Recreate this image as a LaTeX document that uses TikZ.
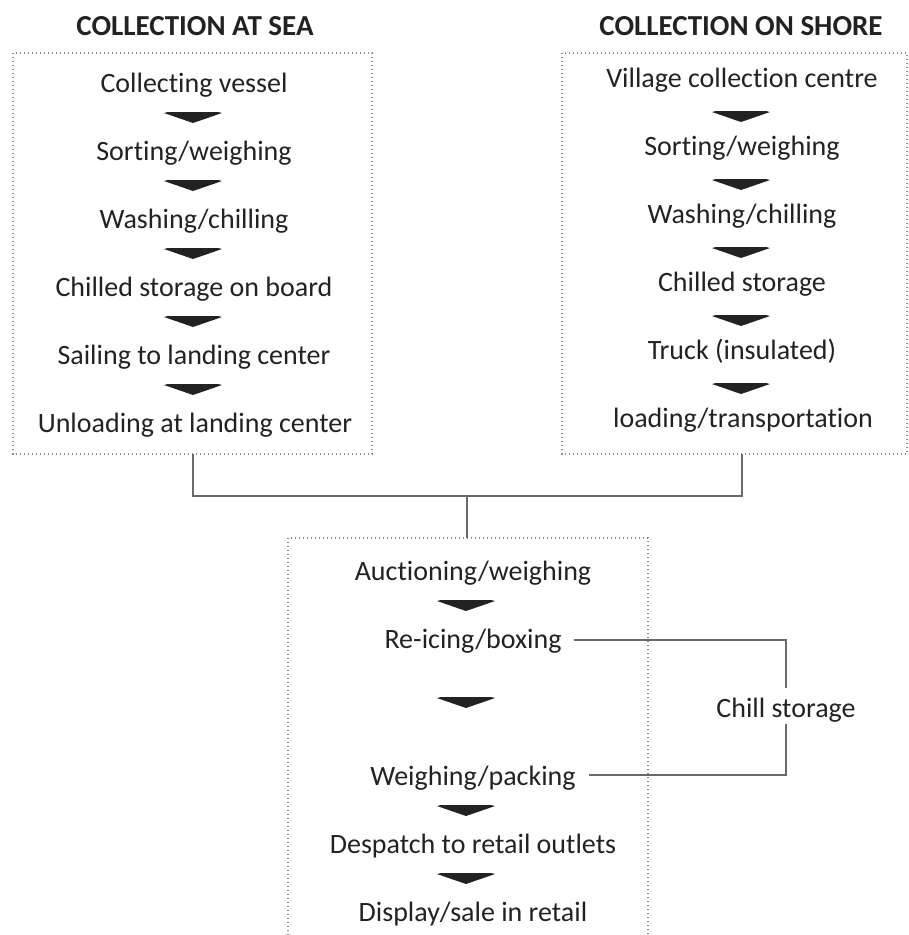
\documentclass[tikz,border=0pt]{standalone}
\usepackage{fontspec}
\setmainfont[Ligatures=NoCommon]{Carlito}
\definecolor{ink}{HTML}{222222}
\definecolor{framegray}{HTML}{8A8A8A}
\definecolor{linegray}{HTML}{6A6A6A}
\tikzset{
  lbl/.style={anchor=base, text=ink, inner sep=0pt, font=\fontsize{28}{32}\selectfont},
  hdr/.style={anchor=base, text=ink, inner sep=0pt, font=\fontsize{29}{33}\selectfont\bfseries},
  frame/.style={draw=framegray, line width=1.2pt, dash pattern=on 1.4pt off 2.6pt},
  link/.style={draw=linegray, line width=1.6pt},
  chev/.pic={\fill[ink] (-29,-5) -- (-25,-6) -- (25,-6) -- (29,-5) -- (0,5) -- cycle;}
}
\begin{document}
\begin{tikzpicture}[x=1pt, y=-1pt]
  \clip (0,0) rectangle (909,935);

  % section headings
  \node[hdr] (hsea)   at (195,35) {COLLECTION AT SEA};
  \node[hdr] (hshore) at (741,35) {COLLECTION ON SHORE};

  % frames of the three stages
  \draw[frame] (13,53) rectangle (372,454);
  \draw[frame] (562,53) rectangle (907,454);
  \draw[frame] (288,538) rectangle (648,960);

  % collection at sea
  \node[lbl] (s1) at (194,92)  {Collecting vessel};
  \node[lbl] (s2) at (194,160) {Sorting/weighing};
  \node[lbl] (s3) at (194,228) {Washing/chilling};
  \node[lbl] (s4) at (194,296) {Chilled storage on board};
  \node[lbl] (s5) at (194,364) {Sailing to landing center};
  \node[lbl] (s6) at (195,432) {Unloading at landing center};
  \foreach \y in {118,186,254,322,390} \pic at (193,\y) {chev};

  % collection on shore
  \node[lbl] (c1) at (742,87)  {Village collection centre};
  \node[lbl] (c2) at (742,155) {Sorting/weighing};
  \node[lbl] (c3) at (742,223) {Washing/chilling};
  \node[lbl] (c4) at (742,291) {Chilled storage};
  \node[lbl] (c5) at (742,359) {Truck (insulated)};
  \node[lbl] (c6) at (743,427) {loading/transportation};
  \foreach \y in {117,185,253,321,389} \pic at (741,\y) {chev};

  % landing centre and distribution
  \node[lbl] (d1) at (473,580) {Auctioning/weighing};
  \node[lbl] (d2) at (473,648) {Re-icing/boxing};
  \node[lbl] (d3) at (473,785) {Weighing/packing};
  \node[lbl] (d4) at (473,853) {Despatch to retail outlets};
  \node[lbl] (d5) at (473,921) {Display/sale in retail};
  \foreach \y in {606,703,811,879} \pic at (466,\y) {chev};

  % chill storage side loop
  \node[lbl] (chill) at (786,717) {Chill storage};

  % joining the two collection routes
  \coordinate (seaout)   at (193,454);
  \coordinate (shoreout) at (742,454);
  \coordinate (join)     at (467,496);
  \coordinate (landin)   at (467,538);
  \draw[link] (seaout) |- (join) -| (shoreout);
  \draw[link] (join) -- (landin);

  \draw[link] ([xshift=12pt,yshift=8pt]d2.base east) -| ([yshift=9pt]chill.north);
  \draw[link] ([xshift=13pt,yshift=10pt]d3.base east) -| ([yshift=-2pt]chill.south);
\end{tikzpicture}
\end{document}
